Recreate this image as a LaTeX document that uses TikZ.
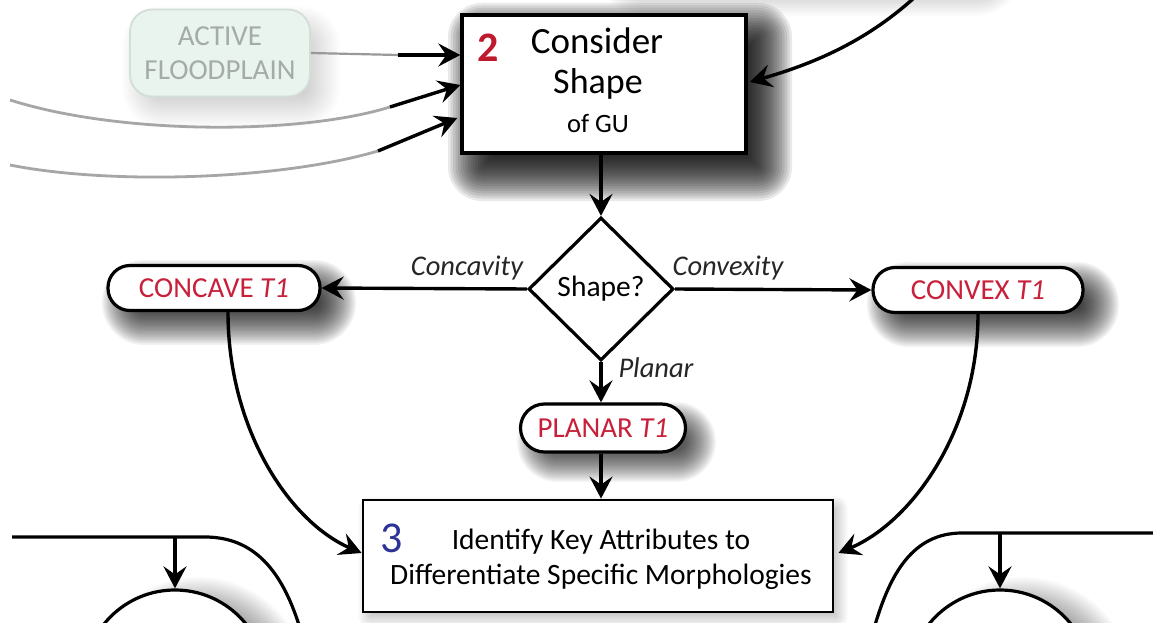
\documentclass[tikz,border=0pt]{standalone}
\usepackage{fontspec}
\setmainfont{Carlito}
\usetikzlibrary{arrows.meta,shapes.geometric,calc}
\definecolor{tred}{RGB}{200,32,58}
\definecolor{tnum}{RGB}{190,25,45}
\definecolor{tblue}{RGB}{45,50,150}
\definecolor{fpfill}{RGB}{234,244,238}
\definecolor{fpdraw}{RGB}{210,222,214}
\definecolor{fptext}{RGB}{165,172,168}
% soft shadow: x1 y1 x2 y2 corner blur alpha
\newcommand{\softshadow}[7]{%
  \foreach \shK in {0,...,23}{%
    \pgfmathsetmacro{\shE}{#6*(1-\shK/12)}%
    \pgfmathsetmacro{\shR}{max(1,#5+\shE)}%
    \fill[black,opacity=#7,rounded corners=\shR pt] ({#1-\shE},{#2-\shE}) rectangle ({#3+\shE},{#4+\shE});
  }}
% soft circular shadow: cx cy radius blur alpha
\newcommand{\softcircle}[5]{%
  \foreach \shK in {0,...,23}{%
    \pgfmathsetmacro{\shE}{#4*(1-\shK/12)}%
    \fill[black,opacity=#5] (#1,#2) circle[radius={#3+\shE}];
  }}
\tikzset{
  arr/.style={line width=3.4pt,-{Stealth[length=22pt,width=23pt,inset=8pt]}},
  plain/.style={line width=3.2pt},
  fade/.style={line width=2.8pt,draw=black!35},
  bigbox/.style={draw,line width=3.4pt,fill=white,inner sep=0pt},
  pill/.style={draw,line width=3.2pt,fill=white,rounded corners=22pt,minimum height=45pt,inner sep=0pt,text=tred,font=\fontsize{29}{32}\selectfont},
  decision/.style={diamond,draw,line width=3.2pt,fill=white,minimum width=145pt,minimum height=143pt,inner sep=0pt,font=\fontsize{29.5}{32}\selectfont},
  lbl/.style={font=\fontsize{28.5}{32}\selectfont\itshape,text=black!85},
}
\begin{document}
\begin{tikzpicture}[x=1pt,y=-1pt]
\clip (0,0) rectangle (1153,623);
\fill[white] (0,0) rectangle (1153,623);
% shadows
\softshadow{620}{-70}{1000}{-8}{25}{24}{0.015}
\softshadow{140}{24}{322}{110}{22}{18}{0.007}
\softshadow{478}{33}{762}{171}{4}{30}{0.085}
\softshadow{122}{280}{336}{325}{22}{20}{0.05}
\softshadow{887}{282}{1099}{327}{22}{20}{0.05}
\softshadow{533}{418}{700}{466}{24}{16}{0.04}
\softshadow{368}{506}{838}{618}{2}{10}{0.01}
\softcircle{198}{688}{91}{20}{0.02}
\softcircle{1023}{688}{91}{20}{0.02}
% active floodplain
\node[draw=fpdraw,line width=1.8pt,fill=fpfill,rounded corners=22pt,minimum width=180pt,minimum height=87pt,
  align=center,text=fptext,font=\fontsize{29}{34}\selectfont] (fp) at (220,53) {ACTIVE\\FLOODPLAIN};
% box 2
\node[bigbox,minimum width=284pt,minimum height=138pt] (b2) at (604,84) {};
\node[text=tnum,font=\fontsize{42}{42}\selectfont\bfseries] (n2) at (488,48) {2};
\node[font=\fontsize{37}{40}\selectfont] (t2a) at (597,41) {Consider};
\node[font=\fontsize{36}{40}\selectfont] (t2b) at (598,84) {Shape};
\node[font=\fontsize{26.5}{30}\selectfont] (t2c) at (598,124) {of GU};
% incoming curves on the left
\coordinate (c0) at (398,55);
\coordinate (l1) at (10,100);
\coordinate (l1b) at (390,107);
\coordinate (l2) at (10,165);
\coordinate (l2b) at (378,151);
\draw[line width=2.2pt,draw=black!40] (fp.east) -- (c0);
\draw[arr] (c0) -- (b2.west |- c0);
\draw[fade] (l1) .. controls (120,135) and (300,135) .. (l1b);
\draw[arr] (l1b) -- ($(b2.west)+(0,1)$);
\draw[fade] (l2) .. controls (110,185) and (280,180) .. (l2b);
\draw[arr] (l2b) -- ($(b2.west)+(-3,34)$);
% incoming curve top right
\coordinate (tr) at (915,-3);
\draw[arr] (tr) .. controls (870,38) and (820,62) .. ($(b2.east)+(2,-2)$);
% diamond
\node[decision] (d) at (601,289) {Shape?};
\draw[arr] (b2.south -| d.north) -- (d.north);
% pills
\node[pill,minimum width=212pt] (cc) at (214,288) {CONCAVE \textit{T1}};
\node[pill,minimum width=210pt] (cv) at (978,290) {CONVEX \textit{T1}};
\node[pill,minimum width=165pt,minimum height=48pt,rounded corners=24pt] (pl) at (603,428) {PLANAR \textit{T1}};
\draw[arr] (d.west) -- (cc.east);
\draw[arr] (d.east) -- (cv.west);
\draw[arr] (d.south) -- (d.south |- pl.north);
\node[lbl] (lcc) at (467,268) {Concavity};
\node[lbl] (lcv) at (728,268) {Convexity};
\node[lbl] (lpl) at (656,368) {Planar};
% box 3
\node[bigbox,line width=2.8pt,minimum width=470pt,minimum height=112pt] (b3) at (598,556) {};
\draw[arr] (pl.south -| d.south) -- (b3.north -| d.south);
\node[text=tblue,font=\fontsize{44}{44}\selectfont] (n3) at (392,538) {3};
\node[font=\fontsize{29.5}{32}\selectfont] (t3a) at (601,542) {Identify Key Attributes to};
\node[font=\fontsize{29.5}{32}\selectfont] (t3b) at (601,577) {Differentiate Specific Morphologies};
\draw[arr] ($(cc.south)+(14,0)$) .. controls (228,430) and (290,522) .. ($(b3.west)+(0,-3)$);
\draw[arr] (cv.south) .. controls (978,430) and (912,522) .. ($(b3.east)+(4,-3)$);
% bottom left partial
\coordinate (bl0) at (12,537);
\coordinate (bl1) at (205,537);
\coordinate (bl2) at (299,625);
\coordinate (bla) at (175,537);
\node[circle,draw,line width=3.2pt,minimum size=182pt,inner sep=0pt,fill=white] (cl) at (175,681) {};
\draw[plain] (bl0) -- (bl1) .. controls (255,537) and (282,572) .. (bl2);
\draw[arr] (bla) -- (cl.north);
% bottom right partial
\coordinate (br0) at (1155,533);
\coordinate (br1) at (962,533);
\coordinate (br2) at (875,625);
\coordinate (bra) at (1000,533);
\node[circle,draw,line width=3.2pt,minimum size=182pt,inner sep=0pt,fill=white] (cr) at (1000,681) {};
\draw[plain] (br0) -- (br1) .. controls (912,533) and (890,575) .. (br2);
\draw[arr] (bra) -- (cr.north);
\end{tikzpicture}
\end{document}
